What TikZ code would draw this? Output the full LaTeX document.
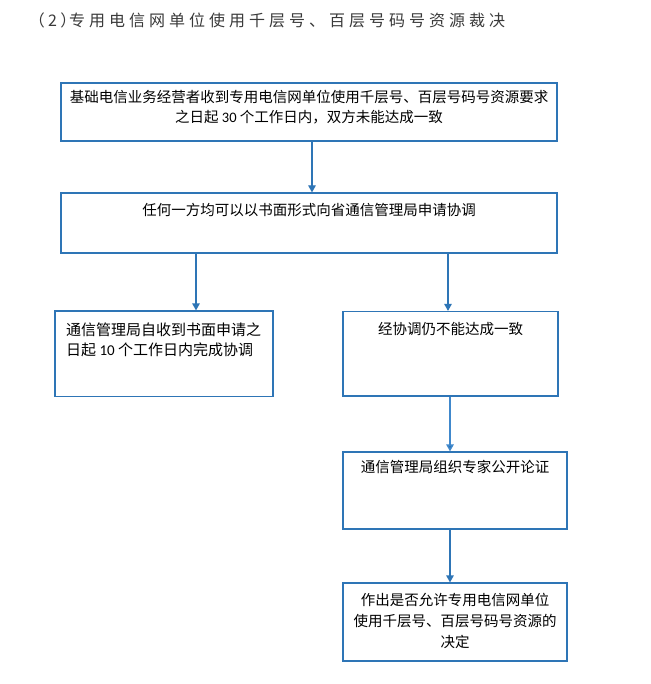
\documentclass[tikz,border=0pt]{standalone}
\usepackage{fontspec}
\setmainfont{Noto Sans CJK SC}
\newfontfamily\cjktitle[LetterSpace=25]{Noto Sans CJK SC}
\newfontfamily\lat{Carlito}
\usetikzlibrary{arrows.meta}
\definecolor{boxblue}{HTML}{2E75B6}
\definecolor{arrlight}{HTML}{4088CC}
\definecolor{titlegray}{HTML}{3A3A3A}
\begin{document}
\begin{tikzpicture}[x=1pt,y=-1pt,
  box/.style={draw=boxblue, line width=1.2pt, inner sep=0pt, rectangle},
  txt/.style={inner sep=0pt, text=black, align=center, anchor=north,
    font=\fontsize{14.5}{19.5}\selectfont},
  arr/.style={draw=boxblue, line width=1.2pt, -{Triangle[width=7.5pt,length=7pt]}},
  arrlt/.style={draw=arrlight, line width=1.4pt, -{Triangle[width=7.5pt,length=7pt,fill=boxblue]}}
]
\useasboundingbox[fill=white] (0,0) rectangle (650,684);

\node[anchor=west, inner sep=0pt, text=titlegray,
  font=\cjktitle\fontsize{16}{16}\selectfont] (title) at (36,20)
  {{\addfontfeature{RawFeature=+palt}（2）}专用电信网单位使用千层号、百层号码号资源裁决};

% boxes
\node[box, minimum width=496pt, minimum height=58pt] (b1) at (309,112) {};
\node[box, minimum width=496pt, minimum height=60pt] (b2) at (309,223) {};
\node[box, minimum width=218pt, minimum height=85.5pt] (b3) at (164,353.75) {};
\node[box, minimum width=215pt, minimum height=84.5pt] (b4) at (450.5,353.75) {};
\node[box, minimum width=224pt, minimum height=77pt] (b5) at (455,490.5) {};
\node[box, minimum width=224pt, minimum height=78pt] (b6) at (455,622) {};

% texts
\node[txt] (t1) at (309,90.3) {基础电信业务经营者收到专用电信网单位使用千层号、百层号码号资源要求\\之日起 {\lat 30} 个工作日内，双方未能达成一致};
\node[txt] (t2) at (309,203) {任何一方均可以以书面形式向省通信管理局申请协调};
\node[txt, anchor=north west, align=left, font=\fontsize{15}{20}\selectfont] (t3) at (66,323) {通信管理局自收到书面申请之\\日起 {\lat 10} 个工作日内完成协调};
\node[txt] (t4) at (450.5,322) {经协调仍不能达成一致};
\node[txt] (t5) at (455,460) {通信管理局组织专家公开论证};
\node[txt, font=\fontsize{14.5}{21}\selectfont] (t6) at (455,593) {作出是否允许专用电信网单位\\使用千层号、百层号码号资源的\\决定};

% connectors
\draw[arr] (b1.south -| 312,0) -- (b2.north -| 312,0);
\draw[arr] (b2.south -| 196,0) -- (b3.north -| 196,0);
\draw[arr] (b2.south -| 448,0) -- (b4.north -| 448,0);
\draw[arrlt] (b4.south -| 450,0) -- (b5.north -| 450,0);
\draw[arr] (b5.south -| 450,0) -- (b6.north -| 450,0);
\end{tikzpicture}
\end{document}
